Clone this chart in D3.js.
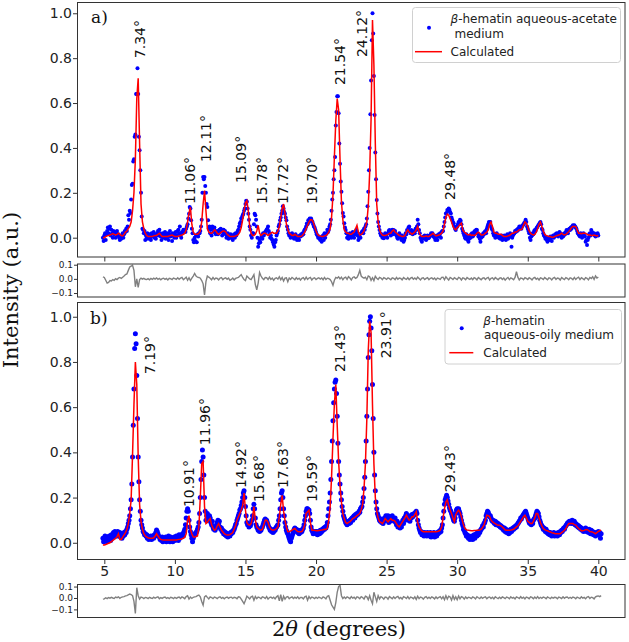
<!DOCTYPE html>
<html>
<head>
<meta charset="utf-8">
<script src="https://cdn.jsdelivr.net/npm/d3@7"></script>
<style>
  body { margin: 0; background: #fff; }
  svg { display: block; font-family: "DejaVu Sans", sans-serif; }
</style>
</head>
<body>
<svg id="chart" width="629" height="642"></svg>
<script>
// ---- data (2theta grid starts at 4.9; observed every 0.05, fit/residual every 0.1) ----
const obsStep = 0.05, fitStep = 0.1, start = 4.9;

// a) aqueous-acetate medium, observed
const obsA = [
  .00, -.015,
  .01, .02, -.01, .015, .03, .045, .02, .04, .05, .01, .035, .02, .00, .03, .015, .025, .00, .02, .03, .01,
  .015, .00, -.01, .005, -.005, .01, .02, .00, .015, .03, .025, .04, .03, .05, .10, .08, .12, .11, .17, .235,
  .24, .34, .35, .45, .46, .64, .64, .755, .64, .45, .39, .30, .20, .095, .04, .035, .02, .03, -.01, .01,
  .00, .02, -.005, .01, .015, .00, -.01, .02, .01, .005, .025, .00, .015, -.005, .01, .02, .03, .01, .035, .02,
  .005, -.01, .01, .02, .00, .015, .025, -.005, .01, .00, .02, -.01, .015, .03, .005, .01, -.015, .02, .01, .00,
  .015, .025, .00, .01, .03, .035, .02, .05, .01, .00, .025, .02, .035, .03, .03, .025, .04, .05, .06, .085,
  .107, .137, .13, .078, .04, .02, -.01, -.02, .00, -.015, .01, -.02, .015, .005, .02, .02, .03, .05, .08, .20,
  .27, .26, .27, .23, .20, .15, .137, .078, .04, .05, .02, .035, .01, .05, .04, .025, .045, .03, .015, .02,
  .03, .015, .02, .035, .025, .04, .03, .01, .025, .035, .02, .03, .015, .00, .01, .02, -.005, .01, .00, .015,
  .00, .01, -.01, .005, .015, .00, .02, .01, .02, .03, .035, .05, .063, .07, .085, .09, .10, .107, .12, .13,
  .15, .165, .16, .13, .107, .08, .05, .035, .01, .00, .02, .02, .06, .107, .10, .08, .05, .00, -.04, -.025,
  -.01, -.02, .00, .01, -.005, .02, .01, .02, .025, .03, .035, .04, .05, .03, .02, .00, .01, -.005, -.01, -.02,
  -.03, -.04, -.02, -.01, .01, .02, .03, .05, .06, .078, .09, .107, .12, .14, .13, .115, .107, .09, .078, .05,
  .035, .02, .01, .015, .00, .005, .02, .01, .00, -.005, .01, .015, .00, -.01, .005, .00, -.01, .01, .005, .015,
  .01, .02, .015, .03, .035, .04, .05, .063, .06, .078, .07, .085, .08, .085, .075, .07, .06, .05, .045, .035,
  .025, .015, .01, .00, .005, -.005, -.01, .00, -.018, .005, .01, -.01, .02, .00, .015, .02, .035, .025, .034, .05,
  .06, .08, .12, .17, .20, .26, .30, .36, .50, .56, .63, .63, .555, .42, .33, .25, .205, .153, .11, .094,
  .064, .045, .034, .02, .00, .015, -.005, .01, .02, .01, .00, .015, .025, .01, .00, .02, .015, .034, .025, .01,
  -.01, .00, .015, .00, .02, .025, .03, .02, .04, .035, .05, .06, .086, .14, .205, .30, .40, .55, .70, .88,
  1.0, .91, .72, .547, .38, .26, .168, .108, .07, .05, .034, .02, .01, .015, .00, .005, -.003, .01, .02, .005,
  .015, .00, .02, .03, .034, .02, .01, .025, .035, .015, .034, .02, .03, .015, .01, .00, -.005, .01, .02, .005,
  .00, -.01, .01, -.005, -.018, -.01, .00, .02, .015, .034, .03, .045, .05, .03, .02, .034, .025, .015, .02, .03,
  .02, .04, .034, .05, .08, .06, .034, .02, .00, -.01, -.018, .00, .005, -.005, .01, .00, -.01, .005, .01, -.003,
  .00, .005, .01, .02, .015, .02, .005, .01, .00, -.01, .00, .01, -.01, .005, .015, .01, .02, .00, .025, .03,
  .03, .05, .07, .09, .108, .11, .123, .12, .13, .125, .115, .108, .09, .08, .07, .064, .05, .04, .034, .045,
  .05, .06, .07, .065, .08, .075, .06, .04, .03, .02, .01, .00, -.005, .015, .005, -.01, -.018, -.005, .01, .00,
  .015, .02, .005, .01, .025, .03, .02, .035, .034, .02, .005, .01, -.005, -.018, .00, .01, .005, .02, .015, .025,
  .03, .02, .04, .05, .06, .07, .065, .07, .05, .04, .034, .02, .01, .015, .00, .01, .02, .005, .01, .00,
  .00, -.005, .005, .01, -.01, .00, -.005, .01, .00, -.01, .005, .015, -.005, .00, .01, .02, .005, -.04, .00, .01,
  .015, .02, .03, .025, .034, .03, .04, .035, .05, .045, .05, .04, .05, .055, .06, .065, .07, .08, .07, .05,
  .04, .03, .02, .00, -.01, .005, .01, .02, .015, .03, .034, .03, .04, .045, .05, .055, .06, .065, .07, .06,
  .04, .034, .02, .01, .005, -.005, .00, -.01, -.018, -.005, .00, -.01, .005, .00, -.015, .005, .01, .00, .005, .015,
  .01, .02, .015, .005, .02, .025, .02, .01, .00, .015, .005, .01, .02, .015, .025, .034, .03, .02, .035, .04,
  .034, .045, .04, .05, .055, .05, .056, .05, .045, .04, .03, .02, .015, .01, .005, .02, .01, .00, .015, .02,
  .01, .005, -.018, -.01, -.033, -.01, .00, .015, .02, .01, .034, .025, .02, .015, .02, .01, .005, .015, .01, .02,
  .01
];

// a) calculated profile
const calcA = [
  .00,
  .00, .005, .008, .01, .012, .015, .018, .015, .012, .015,
  .02, .015, .01, .008, .015, .025, .03, .04, .05, .07,
  .12, .20, .35, .62, .71, .42, .15, .07, .04, .02,
  .01, .005, .005, .005, .005, .008, .01, .01, .015, .02,
  .012, .005, .005, .005, .005, .005, .008, .01, .012, .008,
  .005, .005, .005, .008, .01, .012, .015, .02, .035, .07,
  .11, .135, .06, .025, .015, .015, .015, .02, .03, .07,
  .15, .21, .12, .04, .025, .02, .02, .025, .035, .03,
  .02, .015, .02, .025, .03, .03, .025, .015, .01, .005,
  .005, .005, .005, .008, .01, .015, .025, .045, .08, .12,
  .155, .165, .12, .05, .02, .01, .01, .015, .03, .055,
  .02, .01, .015, .02, .02, .015, .01, .015, .02, .025,
  .02, .02, .02, .03, .05, .09, .13, .15, .11, .06,
  .035, .02, .015, .01, .01, .015, .01, .005, .005, .005,
  .008, .015, .025, .04, .055, .07, .08, .08, .07, .05,
  .03, .015, .01, .008, .005, .005, .008, .01, .015, .025,
  .04, .09, .19, .36, .52, .62, .57, .35, .16, .08,
  .035, .025, .02, .02, .015, .015, .02, .025, .04, .055,
  .025, .012, .015, .02, .03, .05, .07, .14, .29, .53,
  .97, .77, .42, .15, .07, .035, .02, .012, .01, .01,
  .012, .015, .02, .02, .03, .035, .025, .02, .015, .01,
  .008, .005, .005, .01, .025, .035, .025, .02, .015, .02,
  .025, .035, .05, .025, .01, .005, .005, .005, .008, .005,
  .005, .01, .015, .02, .012, .008, .01, .012, .015, .02,
  .03, .06, .09, .105, .10, .085, .07, .05, .04, .035,
  .045, .05, .06, .065, .035, .025, .02, .015, .012, .015,
  .01, .012, .01, .012, .02, .025, .02, .012, .012, .015,
  .02, .025, .035, .06, .07, .05, .025, .02, .02, .015,
  .015, .015, .01, .005, .005, .005, .008, .01, .015, .02,
  .02, .025, .025, .03, .035, .035, .04, .055, .07, .065,
  .05, .03, .02, .015, .012, .015, .025, .04, .06, .07,
  .05, .03, .015, .01, .008, .005, .005, .002, .002, .005,
  .008, .01, .012, .015, .02, .015, .012, .015, .02, .027,
  .035, .045, .05, .05, .05, .035, .02, .02, .018, .02,
  .02, .02, .015, .012, .012, .01, .01, .012, .01, .008,
  .01
];

// a) difference curve
const resA = [
  .014,
  .01, -.01, -.03, -.025, -.012, -.015, -.005, -.01, .002, -.005,
  .005, .01, .004, .012, .02, .03, .035, .06, .084, .09,
  .096, .06, -.056, .00, -.06, -.005, .005, -.002, .004, -.003,
  -.005, .002, -.006, .003, -.004, .005, -.002, .006, -.003, .004,
  -.006, .002, .005, -.004, .003, -.008, .004, .001, -.005, .006,
  .002, -.004, .007, -.003, .005, .01, -.006, .003, .012, -.01,
  .008, -.012, .005, .02, .038, .02, .012, .01, .005, -.012,
  -.035, -.114, -.02, .02, .012, .005, -.006, .01, -.004, .006,
  .003, -.007, .005, .009, -.005, .004, .008, -.003, .006, -.01,
  -.004, .006, -.008, .003, .007, .01, .02, .03, .01, -.005,
  -.012, .02, .01, .00, -.005, .012, .03, -.04, -.077, -.03,
  .045, .02, .004, -.006, .01, .008, -.005, .012, -.004, .006,
  -.01, .004, .008, -.002, .015, -.006, .01, -.015, .005, .008,
  -.02, .006, -.004, .01, .003, -.006, .008, -.003, .005, -.008,
  .004, .009, -.006, .012, -.004, .006, .01, -.008, .004, .007,
  -.005, .003, .008, -.002, .006, -.006, .01, -.004, .005, .002,
  -.005, -.02, -.045, -.01, .01, .005, .015, .00, .012, -.006,
  .008, .012, -.004, .015, .006, -.008, .01, .014, .004, .01,
  .03, .06, .02, .01, .005, .012, -.006, .02, .015, -.01,
  .008, -.012, .018, .005, -.004, .01, .006, -.005, .009, .003,
  -.004, .007, .002, -.006, .008, .004, -.005, .01, -.002, .006,
  .003, -.007, .009, .002, -.004, .008, -.006, .005, .01, -.003,
  .006, -.004, .012, .002, -.008, .005, .007, -.005, .003, .009,
  -.006, .004, .008, -.003, .006, -.007, .005, .002, -.004, .01,
  .012, -.006, .015, .003, -.008, .01, .004, -.005, .008, .002,
  -.005, .01, .005, -.008, .007, .003, -.006, .009, .002, -.004,
  .006, -.005, .008, .003, -.007, .01, .002, -.006, .005, .008,
  -.004, .006, .01, -.008, .004, .007, -.005, .009, .002, -.006,
  .005, .008, -.004, .006, -.009, .003, .01, -.005, .007, .002,
  -.006, .01, .05, .012, -.008, .006, .004, -.005, .009, .003,
  -.004, .008, .002, -.007, .006, .01, -.003, .005, -.008, .007,
  .003, -.005, .009, .002, -.006, .008, .004, -.007, .005, .01,
  -.004, .006, .003, -.008, .01, .002, -.005, .009, .004, -.006,
  .007, .003, -.006, .01, -.004, .006, .012, -.005, .008, .002,
  -.006, .009, .004, -.007, .01, .003, .015, -.004, .02, .006,
  .012
];

// b) aqueous-oily medium, observed
const obsB = [
  .02, .005,
  .015, .03, .01, .02, .005, .025, .015, .03, .02, .01, .035, .02, .03, .045, .025, .05, .035, .045, .03, .05,
  .04, .03, .045, .025, .035, .02, .04, .03, .045, .035, .05, .045, .06, .07, .085, .10, .12, .15, .19, .26,
  .38, .52, .68, .86, .925, .88, .74, .55, .38, .27, .19, .14, .10, .08, .065, .05, .045, .035, .04, .03,
  .035, .02, .03, .015, .025, .02, .03, .015, .025, .03, .02, .035, .03, .045, .056, .05, .04, .03, .025, .015,
  .02, .01, .025, .005, .02, .015, .01, .025, .005, .02, .01, .03, .015, .005, .025, .01, .02, .005, .015, .025,
  .01, .02, .03, .015, .025, .01, .035, .02, .03, .025, .035, .04, .03, .05, .06, .08, .11, .14, .15, .14,
  .10, .07, .05, .035, .02, .005, .02, .03, .04, .035, .045, .05, .06, .07, .09, .13, .20, .28, .36, .41,
  .38, .30, .20, .14, .10, .12, .13, .11, .10, .12, .11, .09, .08, .095, .07, .06, .07, .055, .065, .08,
  .09, .10, .085, .095, .07, .06, .065, .05, .055, .04, .05, .035, .045, .03, .04, .025, .035, .04, .03, .045,
  .04, .05, .045, .055, .06, .07, .08, .085, .10, .11, .12, .13, .145, .15, .165, .18, .20, .22, .23, .20,
  .16, .12, .09, .08, .085, .07, .08, .075, .085, .10, .12, .15, .17, .15, .11, .08, .07, .065, .055, .06,
  .05, .06, .055, .065, .07, .08, .09, .10, .105, .095, .10, .09, .08, .07, .065, .055, .06, .05, .055, .045,
  .05, .06, .055, .065, .07, .075, .08, .10, .12, .15, .19, .22, .23, .20, .15, .12, .09, .07, .055, .045,
  .04, .03, .02, .01, .005, .02, .03, .04, .05, .06, .065, .055, .06, .05, .045, .055, .04, .05, .045, .055,
  .05, .06, .065, .08, .10, .12, .14, .15, .15, .14, .145, .13, .10, .07, .055, .05, .04, .05, .045, .05,
  .04, .05, .035, .045, .05, .04, .055, .045, .05, .06, .055, .065, .06, .07, .065, .075, .09, .12, .15, .18,
  .22, .28, .36, .45, .54, .62, .68, .71, .72, .66, .56, .44, .36, .30, .26, .22, .19, .16, .14, .12,
  .11, .10, .09, .085, .08, .09, .095, .085, .10, .09, .105, .11, .10, .115, .12, .11, .125, .12, .13, .125,
  .13, .14, .135, .15, .155, .16, .18, .20, .24, .29, .36, .45, .56, .68, .82, .92, .98, 1.0, .95, .85,
  .70, .55, .40, .30, .23, .18, .15, .13, .12, .11, .10, .095, .105, .09, .10, .085, .095, .11, .10, .12,
  .11, .10, .12, .09, .105, .095, .115, .10, .12, .11, .105, .095, .11, .09, .08, .095, .07, .085, .075, .065,
  .08, .07, .09, .10, .085, .11, .10, .12, .13, .115, .12, .10, .11, .095, .12, .11, .125, .115, .12, .13,
  .125, .135, .14, .13, .10, .08, .065, .055, .045, .05, .035, .045, .04, .03, .045, .035, .04, .03, .045, .035,
  .04, .03, .045, .025, .04, .035, .03, .045, .025, .04, .035, .03, .045, .04, .05, .045, .055, .05, .065, .08,
  .11, .14, .17, .19, .20, .21, .20, .185, .17, .155, .145, .14, .13, .12, .11, .10, .095, .11, .13, .145,
  .15, .145, .15, .14, .13, .115, .10, .085, .075, .06, .055, .045, .04, .03, .035, .025, .02, .03, .015, .025,
  .02, .03, .015, .025, .035, .02, .03, .04, .03, .045, .035, .05, .045, .055, .06, .065, .075, .07, .085, .09,
  .10, .12, .13, .14, .135, .125, .115, .12, .11, .10, .095, .10, .09, .085, .095, .08, .09, .08, .085, .075,
  .08, .07, .075, .065, .07, .06, .055, .065, .05, .06, .045, .055, .05, .04, .055, .045, .06, .05, .055, .065,
  .06, .07, .065, .075, .07, .08, .085, .09, .095, .10, .11, .105, .115, .12, .125, .13, .135, .14, .13, .12,
  .11, .10, .09, .085, .095, .08, .09, .085, .10, .105, .11, .12, .13, .14, .135, .13, .115, .10, .09, .08,
  .075, .07, .06, .065, .055, .05, .06, .045, .05, .04, .045, .035, .045, .04, .03, .04, .035, .045, .03, .04,
  .035, .04, .03, .045, .04, .035, .05, .045, .055, .05, .06, .065, .06, .07, .075, .08, .085, .09, .085, .095,
  .09, .095, .085, .10, .09, .085, .095, .08, .085, .075, .08, .07, .075, .065, .07, .06, .065, .055, .06, .05,
  .06, .055, .065, .05, .06, .055, .045, .06, .05, .04, .055, .045, .05, .035, .045, .04, .03, .045, .035, .04,
  .05, .035, .045, .02, .04
];

// b) calculated profile
const calcB = [
  -.01,
  -.01, -.008, -.005, -.002, .00, .005, .01, .015, .02, .026,
  .04, .015, .015, .025, .035, .045, .06, .085, .13, .19,
  .39, .61, .80, .70, .38, .17, .095, .06, .04, .03,
  .026, .022, .02, .02, .02, .022, .03, .04, .03, .02,
  .015, .013, .012, .012, .012, .012, .012, .012, .012, .012,
  .012, .012, .014, .015, .016, .018, .02, .025, .04, .10,
  .12, .06, .04, .026, .025, .028, .03, .07, .20, .35,
  .36, .16, .085, .09, .10, .107, .08, .065, .056, .06,
  .075, .085, .07, .056, .048, .04, .036, .034, .034, .036,
  .04, .045, .06, .075, .10, .115, .13, .145, .165, .22,
  .145, .09, .08, .078, .085, .11, .16, .10, .07, .063,
  .058, .056, .06, .08, .10, .10, .09, .07, .06, .056,
  .056, .058, .063, .07, .115, .17, .21, .14, .10, .07,
  .049, .05, .052, .056, .06, .063, .055, .05, .049, .049,
  .05, .06, .08, .13, .137, .144, .09, .056, .055, .055,
  .053, .053, .054, .055, .056, .058, .06, .059, .065, .10,
  .16, .29, .46, .615, .70, .52, .36, .25, .18, .13,
  .107, .09, .085, .09, .093, .10, .107, .11, .115, .12,
  .125, .13, .145, .17, .24, .35, .55, .85, .98, .93,
  .61, .35, .20, .14, .11, .093, .09, .085, .095, .107,
  .10, .093, .10, .107, .10, .10, .095, .085, .075, .07,
  .08, .09, .10, .11, .122, .11, .10, .105, .115, .115,
  .125, .137, .09, .07, .06, .052, .049, .049, .049, .049,
  .049, .049, .049, .049, .049, .049, .05, .052, .056, .07,
  .11, .15, .18, .19, .165, .145, .13, .11, .093, .125,
  .137, .144, .135, .115, .09, .07, .06, .056, .055, .054,
  .053, .053, .054, .054, .055, .055, .056, .06, .068, .078,
  .10, .122, .12, .115, .10, .093, .088, .085, .08, .078,
  .078, .075, .07, .063, .056, .055, .055, .055, .056, .058,
  .06, .065, .07, .075, .085, .095, .105, .115, .122, .11,
  .095, .09, .085, .085, .095, .11, .13, .13, .11, .09,
  .075, .063, .058, .055, .053, .05, .048, .045, .043, .041,
  .04, .04, .04, .04, .045, .05, .055, .063, .075, .085,
  .085, .085, .085, .08, .078, .07, .063, .058, .053, .053,
  .055, .058, .059, .055, .05, .049, .047, .044, .04, .045,
  .05, .053, .056
];

// b) difference curve
const resB = [
  -.01,
  -.008, .002, -.005, .004, -.002, .006, .00, -.004, .008, .003,
  .01, -.003, .006, .01, .012, .018, .02, .028, .035, .03,
  .02, -.03, -.135, .09, .02, -.01, .008, .004, -.006, .005,
  .002, -.005, .006, .00, -.004, .007, -.002, .005, .01, -.006,
  .003, -.004, .005, .008, -.003, .004, -.006, .006, .002, -.005,
  .006, -.003, .004, .008, -.005, .01, .003, -.006, .012, .02,
  -.01, .008, -.004, .006, .01, .012, .02, .025, .01, -.03,
  -.062, .01, .02, .005, -.008, .01, .004, -.006, .008, .003,
  -.005, .006, .01, -.004, .005, -.007, .004, .009, -.003, .005,
  .007, -.004, .006, .003, -.006, .01, .008, -.01, -.03, -.05,
  -.02, .015, .005, -.008, .01, .015, -.02, .012, -.006, .008,
  .004, -.007, .01, .006, -.005, .012, -.01, .004, .008, -.003,
  .006, -.008, .01, .02, -.025, .03, -.03, .015, -.01, .008,
  .012, -.006, .004, .009, -.005, .007, -.003, .01, -.006, .005,
  .004, -.008, .01, .015, -.02, .012, -.006, .008, .003, -.005,
  .006, -.004, .008, .002, -.006, .01, .004, -.008, .015, .02,
  -.02, -.06, -.08, -.10, -.04, .05, .10, .11, .02, -.005,
  .008, -.004, .01, .003, -.006, .012, -.002, .006, -.008, .01,
  .005, -.006, .012, .004, -.01, .015, .01, -.015, .02, -.02,
  -.05, .05, .01, -.03, .02, -.008, .012, .004, -.01, .008,
  .006, -.01, .012, .003, -.007, .01, -.004, .008, .014, -.006,
  .004, -.009, .011, .006, -.005, .013, -.008, .007, .003, -.006,
  .01, -.012, .015, -.006, .008, .004, -.01, .006, .012, -.004,
  .007, -.005, .01, .003, -.008, .009, -.004, .006, .011, -.007,
  .012, -.015, .02, -.01, .015, .008, -.018, .02, -.012, .01,
  -.015, .018, -.008, .012, .006, -.01, .009, -.005, .007, .003,
  -.006, .009, .004, -.008, .011, .002, -.005, .008, -.003, .006,
  .01, -.007, .005, .009, -.004, .006, -.008, .01, .002, -.005,
  .007, -.004, .009, .003, -.006, .008, .004, -.007, .01, -.002,
  .005, -.008, .009, .004, -.005, .011, -.003, .006, -.009, .007,
  .003, -.006, .01, .005, -.007, .008, -.004, .012, -.005, .006,
  -.003, .008, .004, -.006, .009, .002, -.005, .007, -.002, .006,
  .004, -.007, .008, .003, -.005, .01, -.003, .006, .008, -.004,
  .006, -.003, .009, .004, -.007, .008, .002, -.005, .01, -.002,
  .005, -.006, .008, .012, -.004, .007, .003, -.008, .01, .015,
  .018, .012, .02
];

// peak annotations: text, anchor 2theta, intensity where text starts
const peaksA = ["7.34°", "11.06°", "12.11°", "15.09°", "15.78°", "17.72°", "19.70°", "21.54°", "24.12°", "29.48°"];
const peaksAX = [7.53, 11.07, 12.24, 14.72, 16.17, 17.66, 19.75, 21.69, 23.29, 29.52];
const peaksAY = [0.80, 0.15, 0.337, 0.244, 0.15, 0.15, 0.15, 0.68, 0.805, 0.168];
const peaksB = ["7.19°", "10.91°", "11.96°", "14.92°", "15.68°", "17.63°", "19.59°", "21.43°", "23.91°", "29.43°"];
const peaksBX = [8.27, 11.0, 12.17, 14.72, 15.96, 17.69, 19.75, 21.69, 24.99, 29.52];
const peaksBY = [0.746, 0.158, 0.432, 0.242, 0.18, 0.242, 0.18, 0.755, 0.816, 0.224];

const xTicks = [5, 10, 15, 20, 25, 30, 35, 40];
const yTicks = [0, 0.2, 0.4, 0.6, 0.8, 1.0];
const resTicks = [-0.1, 0, 0.1];

// ---- drawing ----
const svg = d3.select("#chart");
svg.append("rect").attr("width", 629).attr("height", 642).attr("fill", "#fff");

const L = 77.5, R = 625;
const x = d3.scaleLinear().domain([3.1, 41.89]).range([L, R]);
const fmt = d3.format(".1f");
const toPts = (vals, dx) => vals.map((v, i) => [start + i * dx, v]);

function mainPanel(top, bottom, yDom, obs, calc, dotR, tag, peaks, px, py, legendLines, legendBox, showX) {
  const y = d3.scaleLinear().domain(yDom).range([bottom, top]);
  const g = svg.append("g");

  g.selectAll("circle").data(toPts(obs, obsStep)).enter().append("circle")
    .attr("cx", d => x(d[0])).attr("cy", d => y(d[1]))
    .attr("r", dotR).attr("fill", "#0000ff");

  g.append("path").datum(toPts(calc, fitStep))
    .attr("d", d3.line().x(d => x(d[0])).y(d => y(d[1])))
    .attr("fill", "none").attr("stroke", "#ff0000").attr("stroke-width", 1.5);

  const ya = g.append("g").attr("transform", `translate(${L},0)`)
    .call(d3.axisLeft(y).tickValues(yTicks).tickFormat(fmt).tickSize(4.5).tickPadding(1));
  ya.selectAll("text").attr("font-size", 14).attr("fill", "#222").attr("font-family", "DejaVu Sans");
  ya.select(".domain").remove();
  ya.selectAll("line").attr("stroke", "#333");

  const xa = g.append("g").attr("transform", `translate(0,${bottom})`)
    .call(d3.axisBottom(x).tickValues(xTicks).tickSize(4.5).tickPadding(2));
  xa.select(".domain").remove();
  xa.selectAll("line").attr("stroke", "#333");
  if (showX) xa.selectAll("text").attr("font-size", 14).attr("fill", "#222").attr("font-family", "DejaVu Sans");
  else xa.selectAll("text").remove();

  g.append("rect").attr("x", L).attr("y", top).attr("width", R - L).attr("height", bottom - top)
    .attr("fill", "none").attr("stroke", "#333").attr("stroke-width", 1);

  g.selectAll(".peak").data(peaks).enter().append("text").attr("class", "peak")
    .attr("transform", (d, i) => `translate(${x(px[i])},${y(py[i])}) rotate(-90)`)
    .attr("dy", "0.35em").attr("font-size", 14).attr("fill", "#111").text(d => d);

  g.append("text").attr("x", tag.x).attr("y", tag.y).attr("font-family", "DejaVu Serif")
    .attr("font-size", 17).attr("fill", "#111").text(tag.t);

  // legend
  const lb = legendBox;
  g.append("rect").attr("x", lb.x0).attr("y", lb.y0).attr("width", lb.x1 - lb.x0).attr("height", lb.y1 - lb.y0)
    .attr("rx", 3).attr("fill", "#fff").attr("fill-opacity", 0.8).attr("stroke", "#d0d0d0");
  g.append("circle").attr("cx", lb.dot[0]).attr("cy", lb.dot[1]).attr("r", 2).attr("fill", "#0000ff");
  g.append("line").attr("x1", lb.line[0]).attr("x2", lb.line[1]).attr("y1", lb.line[2]).attr("y2", lb.line[2])
    .attr("stroke", "#ff0000").attr("stroke-width", 1.5);
  legendLines.forEach(l => {
    const t = g.append("text").attr("x", l.x).attr("y", l.y).attr("font-size", 12).attr("fill", "#222");
    if (l.beta) t.append("tspan").attr("font-style", "italic").text("β");
    t.append("tspan").text(l.t);
  });
}

function resPanel(top, bottom, yDom, res) {
  const y = d3.scaleLinear().domain(yDom).range([bottom, top]);
  const g = svg.append("g");
  g.append("path").datum(toPts(res, fitStep))
    .attr("d", d3.line().x(d => x(d[0])).y(d => y(d[1])))
    .attr("fill", "none").attr("stroke", "#808080").attr("stroke-width", 1.4);
  const ya = g.append("g").attr("transform", `translate(${L},0)`)
    .call(d3.axisLeft(y).tickValues(resTicks).tickFormat(fmt).tickSize(3.5).tickPadding(1));
  ya.selectAll("text").attr("font-size", 9).attr("fill", "#222").attr("font-family", "DejaVu Sans");
  ya.select(".domain").remove();
  ya.selectAll("line").attr("stroke", "#333");
  g.append("rect").attr("x", L).attr("y", top).attr("width", R - L).attr("height", bottom - top)
    .attr("fill", "none").attr("stroke", "#333").attr("stroke-width", 1);
}

mainPanel(2.5, 257, [-0.086, 1.048], obsA, calcA, 2, { x: 91, y: 23, t: "a)" },
  peaksA, peaksAX, peaksAY,
  [{ x: 450.5, y: 22.5, t: "-hematin aqueous-acetate", beta: true },
   { x: 454.5, y: 37.5, t: " medium" },
   { x: 450.5, y: 56, t: "Calculated" }],
  { x0: 412.5, y0: 7.5, x1: 620.5, y1: 62.5, dot: [429, 27.7], line: [415, 442, 51.7] }, false);

resPanel(264, 297, [-0.128, 0.105], resA);

mainPanel(302.5, 559.5, [-0.074, 1.063], obsB, calcB, 2.5, { x: 90, y: 324, t: "b)" },
  peaksB, peaksBX, peaksBY,
  [{ x: 483.3, y: 325, t: "-hematin", beta: true },
   { x: 484, y: 339.2, t: " aqueous-oily medium" },
   { x: 483.3, y: 357, t: "Calculated" }],
  { x0: 445, y0: 309.5, x1: 621.5, y1: 364, dot: [461.7, 328.3], line: [449.3, 473.3, 352.7] }, true);

resPanel(584.5, 617.5, [-0.171, 0.118], resB);

// axis titles
svg.append("text").attr("transform", "translate(18,290) rotate(-90)").attr("text-anchor", "middle")
  .attr("font-family", "DejaVu Serif").attr("font-size", 21).attr("fill", "#111").text("Intensity (a.u.)");
const xt = svg.append("text").attr("x", 339).attr("y", 636).attr("text-anchor", "middle")
  .attr("font-family", "DejaVu Serif").attr("font-size", 21).attr("fill", "#111");
xt.append("tspan").text("2");
xt.append("tspan").attr("font-style", "italic").text("θ");
xt.append("tspan").text(" (degrees)");
</script>
</body>
</html>
